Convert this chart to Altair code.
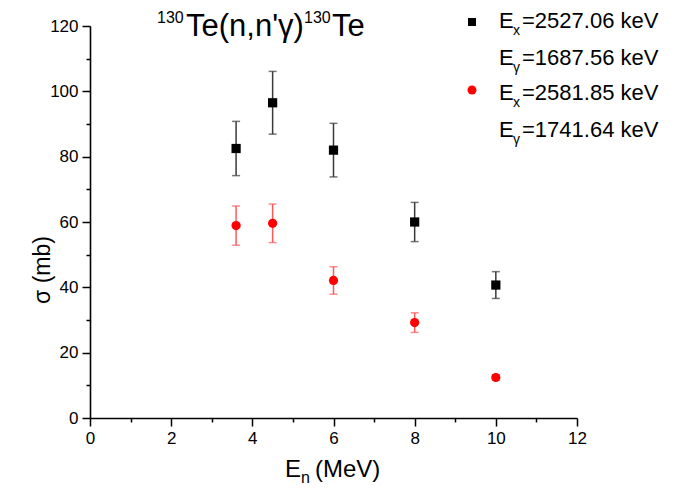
import altair as alt
import pandas as pd

# ---------------- data ----------------
energy = [3.6, 4.5, 6.0, 8.0, 10.0]
sigma_2527 = [82.5, 96.5, 82.0, 60.0, 40.7]
err_2527 = [8.3, 9.6, 8.2, 6.0, 4.1]
sigma_2581 = [58.9, 59.6, 42.1, 29.2, 12.4]
err_2581 = [6.0, 5.9, 4.2, 3.0, 0.8]

x_major = [0, 2, 4, 6, 8, 10, 12]
x_minor = [1, 3, 5, 7, 9, 11]
y_major = [0, 20, 40, 60, 80, 100, 120]
y_minor = [10, 30, 50, 70, 90, 110]

FONT = "Liberation Sans"
W, H = 487, 392

def frame(vals, errs, series):
    return pd.DataFrame({
        "E": energy,
        "s": vals,
        "lo": [v - e for v, e in zip(vals, errs)],
        "hi": [v + e for v, e in zip(vals, errs)],
        "series": series,
    })

d1 = frame(sigma_2527, err_2527, "2527")
d2 = frame(sigma_2581, err_2581, "2581")

xs = alt.Scale(domain=[0, 12], nice=False, zero=False)
ys = alt.Scale(domain=[0, 120], nice=False, zero=False)

ax_x = alt.Axis(values=x_major, title=None, orient="bottom", tickSize=8, labelFontSize=17,
                labelPadding=4, domainWidth=1.6, tickWidth=1.5, labelFont=FONT,
                labelFlush=False, labelOverlap=False)
ax_y = alt.Axis(values=y_major, title=None, orient="left", tickSize=8, labelFontSize=17,
                labelPadding=4, domainWidth=1.6, tickWidth=1.5, labelFont=FONT,
                labelFlush=False, labelOverlap=False)
ax_xm = alt.Axis(values=x_minor, title=None, orient="bottom", tickSize=4, labels=False,
                 domain=False, tickWidth=1.5)
ax_ym = alt.Axis(values=y_minor, title=None, orient="left", tickSize=4, labels=False,
                 domain=False, tickWidth=1.5)


def series_layers(df, color, bar_color, shape, size):
    base = alt.Chart(df)
    rule = base.mark_rule(color=bar_color, strokeWidth=1.5).encode(
        x=alt.X("E:Q", scale=xs, axis=ax_x),
        y=alt.Y("lo:Q", scale=ys, axis=ax_y),
        y2="hi:Q",
    )
    cap_lo = base.mark_tick(color=bar_color, orient="horizontal", size=8, thickness=1.5).encode(
        x=alt.X("E:Q", scale=xs), y=alt.Y("lo:Q", scale=ys))
    cap_hi = base.mark_tick(color=bar_color, orient="horizontal", size=8, thickness=1.5).encode(
        x=alt.X("E:Q", scale=xs), y=alt.Y("hi:Q", scale=ys))
    pts = base.mark_point(filled=True, opacity=1, color=color, shape=shape, size=size).encode(
        x=alt.X("E:Q", scale=xs), y=alt.Y("s:Q", scale=ys))
    return [rule, cap_lo, cap_hi, pts]


minor = alt.Chart(pd.DataFrame({"E": [0.0], "s": [0.0]})).mark_point(opacity=0).encode(
    x=alt.X("E:Q", scale=xs, axis=ax_xm),
    y=alt.Y("s:Q", scale=ys, axis=ax_ym),
)

one = pd.DataFrame({"k": [0]})


def txt(text, x, y, size, align="left", baseline="alphabetic", angle=0, color="black"):
    kw = dict(text=text, font=FONT, fontSize=size, align=align, baseline=baseline, color=color)
    if angle:
        kw["angle"] = angle
    return alt.Chart(one).mark_text(**kw).encode(x=alt.value(x), y=alt.value(y))


annotations = [
    # title
    txt("130", 67, -3, 16),
    txt("Te(n,n'γ)", 96, 10, 31),
    txt("130", 214, -3, 16),
    txt("Te", 242, 10, 31),
    # axis titles
    txt("E", 195, 451, 24),
    txt("n", 211, 457, 16),
    txt("(MeV)", 225, 451, 24),
    txt("σ (mb)", -47, 244, 23, align="center", baseline="middle", angle=270),
    # legend
    txt("E", 409, 2, 22), txt("x", 423, 9, 14), txt("=2527.06 keV", 432, 2, 22),
    txt("E", 409, 39, 22), txt("γ", 423, 46, 14), txt("=1687.56 keV", 432, 39, 22),
    txt("E", 409, 74, 22), txt("x", 423, 81, 14), txt("=2581.85 keV", 432, 74, 22),
    txt("E", 409, 111, 22), txt("γ", 423, 118, 14), txt("=1741.64 keV", 432, 111, 22),
]

legend_marks = [
    alt.Chart(one).mark_point(filled=True, opacity=1, color="black", shape="square", size=64)
    .encode(x=alt.value(382), y=alt.value(-4)),
    alt.Chart(one).mark_point(filled=True, opacity=1, color="#ff0000", shape="circle", size=80)
    .encode(x=alt.value(382), y=alt.value(64)),
]

layers = (series_layers(d1, "black", "#3a3a3a", "square", 85)
          + series_layers(d2, "#ff0000", "#ff5a5a", "circle", 85)
          + annotations + legend_marks)

main = alt.layer(*layers)
chart = alt.layer(minor, main).resolve_axis(x="independent", y="independent").properties(
    width=W, height=H,
    autosize=alt.AutoSizeParams(type="none"),
    padding={"left": 82, "top": 18, "right": 106, "bottom": 70},
).configure_view(stroke=None).configure_axis(
    grid=False, domainColor="black", tickColor="black", labelColor="black"
)

chart.save("out.html", embed_options={"renderer": "svg", "actions": False})
